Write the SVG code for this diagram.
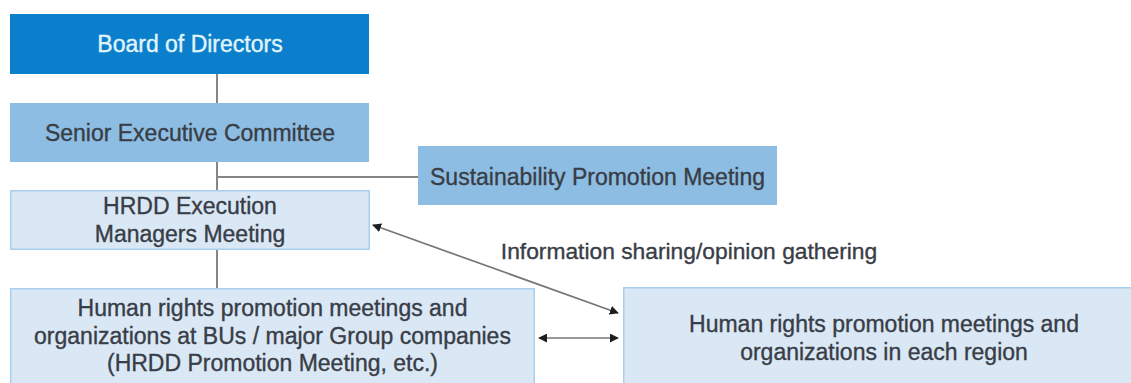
<svg xmlns="http://www.w3.org/2000/svg" width="1131" height="383" viewBox="0 0 1131 383">
  <style>
    text { font-family: "Liberation Sans", Arial, sans-serif; font-size: 23px; text-anchor: middle; fill: #383d46; stroke: #383d46; stroke-width: 0.35; }
    .dark { fill: #0b7fcb; }
    .mid { fill: #8ebde3; }
    .light { fill: #dae7f5; stroke: #a9cfee; stroke-width: 1.5; }
    text.white { fill: #e2f5fc; stroke: #e2f5fc; }
    .conn { stroke: #858585; stroke-width: 2; fill: none; }
    .arr { stroke: #767676; stroke-width: 1.7; fill: none; }
  </style>
  <defs>
    <marker id="ah" viewBox="0 0 10 10" refX="9" refY="5" markerWidth="9" markerHeight="9" markerUnits="userSpaceOnUse" orient="auto-start-reverse">
      <path d="M0,0 L10,5 L0,10 Z" fill="#1e1e1e"/>
    </marker>
  </defs>
  <rect width="1131" height="383" fill="#ffffff"/>

  <g id="connectors">
    <line class="conn" x1="217" y1="74" x2="217" y2="103"/>
    <line class="conn" x1="217" y1="162" x2="217" y2="190"/>
    <line class="conn" x1="217" y1="177" x2="418" y2="177"/>
    <line class="conn" x1="217" y1="250" x2="217" y2="288"/>
    <line class="arr" x1="373" y1="225" x2="618" y2="313" marker-start="url(#ah)" marker-end="url(#ah)"/>
    <line class="arr" x1="539" y1="338" x2="618" y2="338" marker-start="url(#ah)" marker-end="url(#ah)"/>
    <text x="689" y="259" style="font-size:22.8px">Information sharing/opinion gathering</text>
  </g>

  <g id="board">
    <rect class="dark" x="10" y="14" width="359" height="60"/>
    <text class="white" x="190" y="52">Board of Directors</text>
  </g>

  <g id="senior">
    <rect class="mid" x="10" y="103" width="359" height="59"/>
    <text x="190" y="141">Senior Executive Committee</text>
  </g>

  <g id="sustainability">
    <rect class="mid" x="418" y="146" width="359" height="59"/>
    <text x="597.5" y="185">Sustainability Promotion Meeting</text>
  </g>

  <g id="hrdd">
    <rect class="light" x="10.75" y="190.75" width="358.5" height="58.5"/>
    <text x="190" y="214">HRDD Execution</text>
    <text x="190" y="242">Managers Meeting</text>
  </g>

  <g id="bu">
    <rect class="light" x="10.75" y="288.75" width="523.5" height="110"/>
    <text x="272.5" y="316">Human rights promotion meetings and</text>
    <text x="272.5" y="344">organizations at BUs / major Group companies</text>
    <text x="272.5" y="371">(HRDD Promotion Meeting, etc.)</text>
  </g>

  <g id="region">
    <rect class="light" x="623.75" y="287.75" width="530" height="110"/>
    <text x="884" y="332">Human rights promotion meetings and</text>
    <text x="884" y="360">organizations in each region</text>
  </g>
</svg>
